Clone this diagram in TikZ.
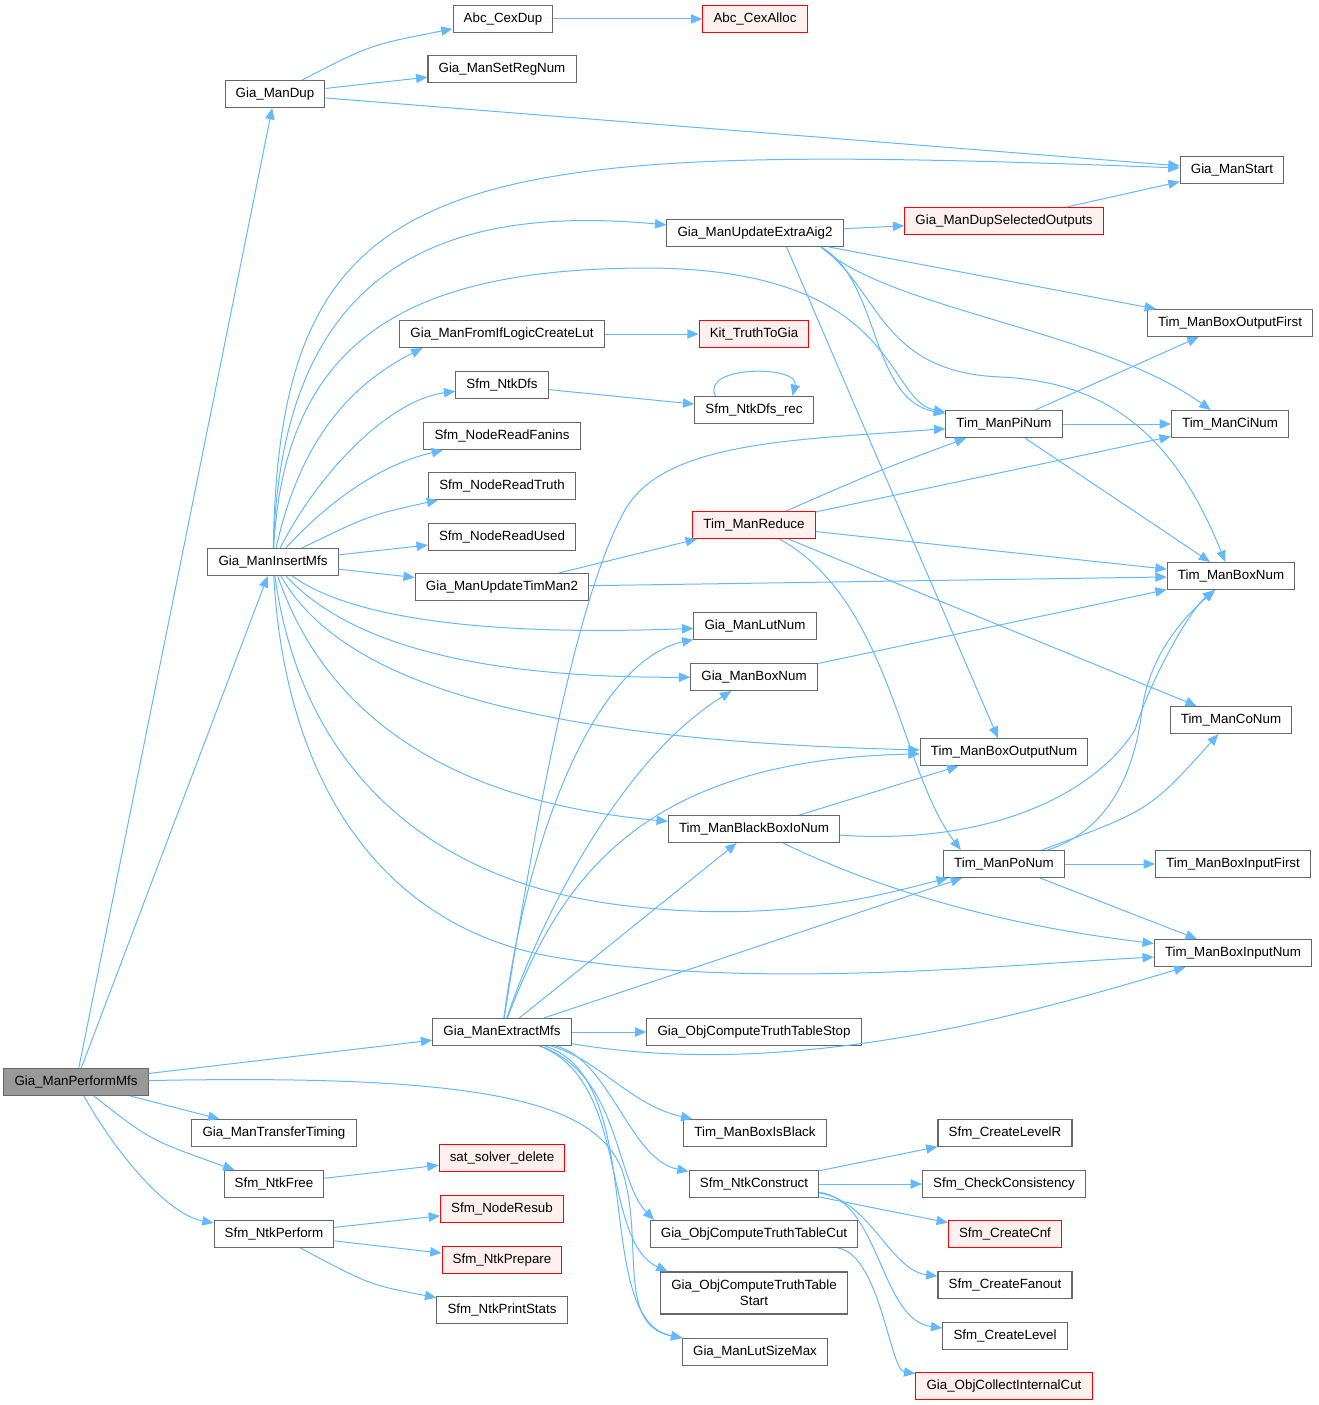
\documentclass[tikz,border=0pt]{standalone}
\usepackage{fontspec}
\setmainfont{Liberation Sans}
\usetikzlibrary{arrows.meta,positioning}
\definecolor{callInk}{HTML}{000000}
\definecolor{callBlue}{HTML}{63B8FF}
\definecolor{callFrame}{HTML}{666666}
\definecolor{callRoot}{HTML}{999999}
\definecolor{callRed}{HTML}{FF0000}
\definecolor{callPink}{HTML}{FFF0F0}
\tikzset{
  every picture/.style={font=\fontsize{10}{12}\selectfont, text=callInk},
  call box/.style={draw=callFrame, line width=0.8pt, fill=white, align=center,
    minimum height=20.25pt, inner xsep=8pt, inner ysep=2pt},
  call root/.style={call box, fill=callRoot},
  call ext/.style={call box, draw=callRed, fill=callPink},
  call edge/.style={-{Triangle[length=8.5pt,width=7pt]}, draw=callBlue,
    line width=0.75pt}
}
\begin{document}
\begin{tikzpicture}[x=0.75pt,y=-0.75pt]
  \useasboundingbox (0,0) rectangle (1319,1405);
  \node[call root] (mfs) at (76,1082) {Gia\_ManPerformMfs};
  \node[call box] (dup) at (275,94) {Gia\_ManDup};
  \node[call box] (cexdup) at (503,19) {Abc\_CexDup};
  \node[call ext] (cexalloc) at (755,19) {Abc\_CexAlloc};
  \node[call box] (setreg) at (502,69) {Gia\_ManSetRegNum};
  \node[call box] (start) at (1232,170) {Gia\_ManStart};
  \node[call box] (upd) at (755,233) {Gia\_ManUpdateExtraAig2};
  \node[call ext] (dupsel) at (1004,221) {Gia\_ManDupSelectedOutputs};
  \node[call box] (boxoutfirst) at (1230,323) {Tim\_ManBoxOutputFirst};
  \node[call box] (fromif) at (502,334) {Gia\_ManFromIfLogicCreateLut};
  \node[call ext] (kit) at (754,334) {Kit\_TruthToGia};
  \node[call box] (ntkdfs) at (502,385) {Sfm\_NtkDfs};
  \node[call box] (dfsrec) at (754,410) {Sfm\_NtkDfs\_rec};
  \node[call box] (pinum) at (1004,424) {Tim\_ManPiNum};
  \node[call box] (cinum) at (1230,424) {Tim\_ManCiNum};
  \node[call box] (fanins) at (502,436) {Sfm\_NodeReadFanins};
  \node[call box] (truth) at (502,486) {Sfm\_NodeReadTruth};
  \node[call ext] (reduce) at (754,525) {Tim\_ManReduce};
  \node[call box] (used) at (502,537) {Sfm\_NodeReadUsed};
  \node[call box] (insert) at (273,562) {Gia\_ManInsertMfs};
  \node[call box] (updtim) at (502,587) {Gia\_ManUpdateTimMan2};
  \node[call box] (boxnum) at (1231,576) {Tim\_ManBoxNum};
  \node[call box] (lutnum) at (755,626) {Gia\_ManLutNum};
  \node[call box] (giaboxnum) at (754,677) {Gia\_ManBoxNum};
  \node[call box] (conum) at (1231,720) {Tim\_ManCoNum};
  \node[call box] (boxoutnum) at (1004,752) {Tim\_ManBoxOutputNum};
  \node[call box] (bbio) at (754,829) {Tim\_ManBlackBoxIoNum};
  \node[call box] (ponum) at (1004,864) {Tim\_ManPoNum};
  \node[call box] (boxinfirst) at (1233,864) {Tim\_ManBoxInputFirst};
  \node[call box] (boxinnum) at (1233,953) {Tim\_ManBoxInputNum};
  \node[call box] (extract) at (502,1032) {Gia\_ManExtractMfs};
  \node[call box] (ttstop) at (754,1032) {Gia\_ObjComputeTruthTableStop};
  \node[call box] (transfer) at (274,1133) {Gia\_ManTransferTiming};
  \node[call box] (isblack) at (755,1133) {Tim\_ManBoxIsBlack};
  \node[call box] (levelr) at (1005,1133) {Sfm\_CreateLevelR};
  \node[call ext] (satdel) at (502,1158) {sat\_solver\_delete};
  \node[call box] (ntkfree) at (274,1184) {Sfm\_NtkFree};
  \node[call box] (construct) at (754,1184) {Sfm\_NtkConstruct};
  \node[call box] (consist) at (1004,1184) {Sfm\_CheckConsistency};
  \node[call ext] (resub) at (502,1209) {Sfm\_NodeResub};
  \node[call box] (ntkperform) at (274,1234) {Sfm\_NtkPerform};
  \node[call box] (ttcut) at (754,1234) {Gia\_ObjComputeTruthTableCut};
  \node[call ext] (cnf) at (1005,1234) {Sfm\_CreateCnf};
  \node[call ext] (prepare) at (502,1260) {Sfm\_NtkPrepare};
  \node[call box, minimum height=31.5pt] (ttstart) at (754,1293) {Gia\_ObjComputeTruthTable\\Start};
  \node[call box] (fanout) at (1005,1285) {Sfm\_CreateFanout};
  \node[call box] (stats) at (502,1310) {Sfm\_NtkPrintStats};
  \node[call box] (lutsize) at (755,1352) {Gia\_ManLutSizeMax};
  \node[call box] (level) at (1005,1336) {Sfm\_CreateLevel};
  \node[call ext] (collect) at (1004,1386) {Gia\_ObjCollectInternalCut};

  \draw[call edge] (mfs) -- (dup);
  \draw[call edge] (mfs) -- (insert);
  \draw[call edge] (mfs) -- (extract);
  \draw[call edge] (mfs) -- (transfer);
  \draw[call edge] (mfs) .. controls (150,1140) .. (ntkfree);
  \draw[call edge] (mfs) .. controls (120,1160) and (170,1215) .. (ntkperform);
  \draw[call edge] (mfs) .. controls (480,1074) and (595,1100) .. (622,1170)
    .. controls (645,1240) and (615,1325) .. (lutsize);

  \draw[call edge] (dup) .. controls (370,45) .. (cexdup);
  \draw[call edge] (dup) -- (setreg);
  \draw[call edge] (dup) -- (start);
  \draw[call edge] (cexdup) -- (cexalloc);

  \draw[call edge] (insert) .. controls (280,160) and (450,140) .. (start);
  \draw[call edge] (insert) .. controls (282,260) and (450,205) .. (upd);
  \draw[call edge] (insert) .. controls (285,330) and (420,268) .. (650,268)
    .. controls (900,270) and (885,400) .. (pinum);
  \draw[call edge] (insert) .. controls (300,440) and (350,385) .. (fromif.190);
  \draw[call edge] (insert) .. controls (320,470) and (390,400) .. (ntkdfs);
  \draw[call edge] (insert) .. controls (330,500) and (380,465) .. (fanins);
  \draw[call edge] (insert) .. controls (370,515) .. (truth);
  \draw[call edge] (insert) -- (used);
  \draw[call edge] (insert) -- (updtim);
  \draw[call edge] (insert) .. controls (360,625) and (520,635) .. (lutnum);
  \draw[call edge] (insert) .. controls (350,645) and (480,678) .. (giaboxnum);
  \draw[call edge] (insert) .. controls (340,680) and (520,740) .. (boxoutnum);
  \draw[call edge] (insert) .. controls (320,700) and (430,800) .. (bbio);
  \draw[call edge] (insert) .. controls (300,760) and (420,880) .. (620,905)
    .. controls (780,925) and (880,895) .. (ponum);
  \draw[call edge] (insert) .. controls (285,780) and (380,930) .. (560,958)
    .. controls (760,990) and (1000,965) .. (boxinnum);

  \draw[call edge] (upd) -- (dupsel);
  \draw[call edge] (upd) -- (boxoutfirst);
  \draw[call edge] (upd.-12) .. controls (890,310) and (1100,330) .. (cinum);
  \draw[call edge] (upd.-12) .. controls (880,280) and (870,400) .. (pinum);
  \draw[call edge] (upd.-12) .. controls (880,290) and (880,372) .. (1000,377)
    .. controls (1120,382) and (1180,450) .. (boxnum);
  \draw[call edge] (upd.-24) -- (boxoutnum);
  \draw[call edge] (dupsel) -- (start);
  \draw[call edge] (fromif) -- (kit);
  \draw[call edge] (ntkdfs) -- (dfsrec);
  \draw[call edge] (dfsrec.160) .. controls (700,365) and (800,365) .. (dfsrec.20);

  \draw[call edge] (pinum) -- (boxoutfirst);
  \draw[call edge] (pinum) -- (cinum);
  \draw[call edge] (pinum) -- (boxnum);
  \draw[call edge] (updtim) -- (reduce);
  \draw[call edge] (updtim) -- (boxnum);
  \draw[call edge] (reduce) .. controls (880,470) .. (pinum);
  \draw[call edge] (reduce) -- (cinum);
  \draw[call edge] (reduce) -- (boxnum);
  \draw[call edge] (reduce) -- (conum);
  \draw[call edge] (reduce) .. controls (890,600) and (900,770) .. (ponum.162);
  \draw[call edge] (giaboxnum) -- (boxnum);
  \draw[call edge] (bbio) -- (boxoutnum);
  \draw[call edge] (bbio) .. controls (980,845) and (1090,800) .. (1135,730)
    .. controls (1150,680) and (1190,610) .. (boxnum);
  \draw[call edge] (bbio) .. controls (880,890) and (1000,925) .. (boxinnum);
  \draw[call edge] (ponum) .. controls (1110,830) and (1135,770) .. (1142,710)
    .. controls (1150,650) and (1190,612) .. (boxnum);
  \draw[call edge] (ponum) .. controls (1150,810) .. (conum);
  \draw[call edge] (ponum) -- (boxinfirst);
  \draw[call edge] (ponum) -- (boxinnum);

  \draw[call edge] (extract) .. controls (540,790) and (580,590) .. (625,510)
    .. controls (665,440) and (800,440) .. (pinum);
  \draw[call edge] (extract) .. controls (530,820) and (600,660) .. (lutnum);
  \draw[call edge] (extract) .. controls (540,920) and (620,760) .. (giaboxnum);
  \draw[call edge] (extract) .. controls (560,880) and (640,760) .. (boxoutnum);
  \draw[call edge] (extract) -- (bbio);
  \draw[call edge] (extract) -- (ponum);
  \draw[call edge] (extract) -- (ttstop);
  \draw[call edge] (extract) .. controls (800,1082) and (1040,1010) .. (boxinnum);
  \draw[call edge] (extract) .. controls (600,1060) and (630,1105) .. (isblack);
  \draw[call edge] (extract) .. controls (610,1060) and (630,1160) .. (construct);
  \draw[call edge] (extract) .. controls (620,1075) and (615,1180) .. (ttcut.172);
  \draw[call edge] (extract) .. controls (630,1080) and (600,1240) .. (ttstart.166);
  \draw[call edge] (extract) .. controls (650,1080) and (590,1320) .. (lutsize);

  \draw[call edge] (construct) -- (levelr);
  \draw[call edge] (construct) -- (consist);
  \draw[call edge] (construct) -- (cnf);
  \draw[call edge] (construct) .. controls (870,1200) and (890,1270) .. (fanout);
  \draw[call edge] (construct) .. controls (880,1200) and (880,1320) .. (level);
  \draw[call edge] (ttcut) .. controls (880,1255) and (890,1370) .. (collect);
  \draw[call edge] (ntkfree) -- (satdel);
  \draw[call edge] (ntkperform) -- (resub);
  \draw[call edge] (ntkperform) -- (prepare);
  \draw[call edge] (ntkperform) .. controls (370,1285) .. (stats);
\end{tikzpicture}
\end{document}
